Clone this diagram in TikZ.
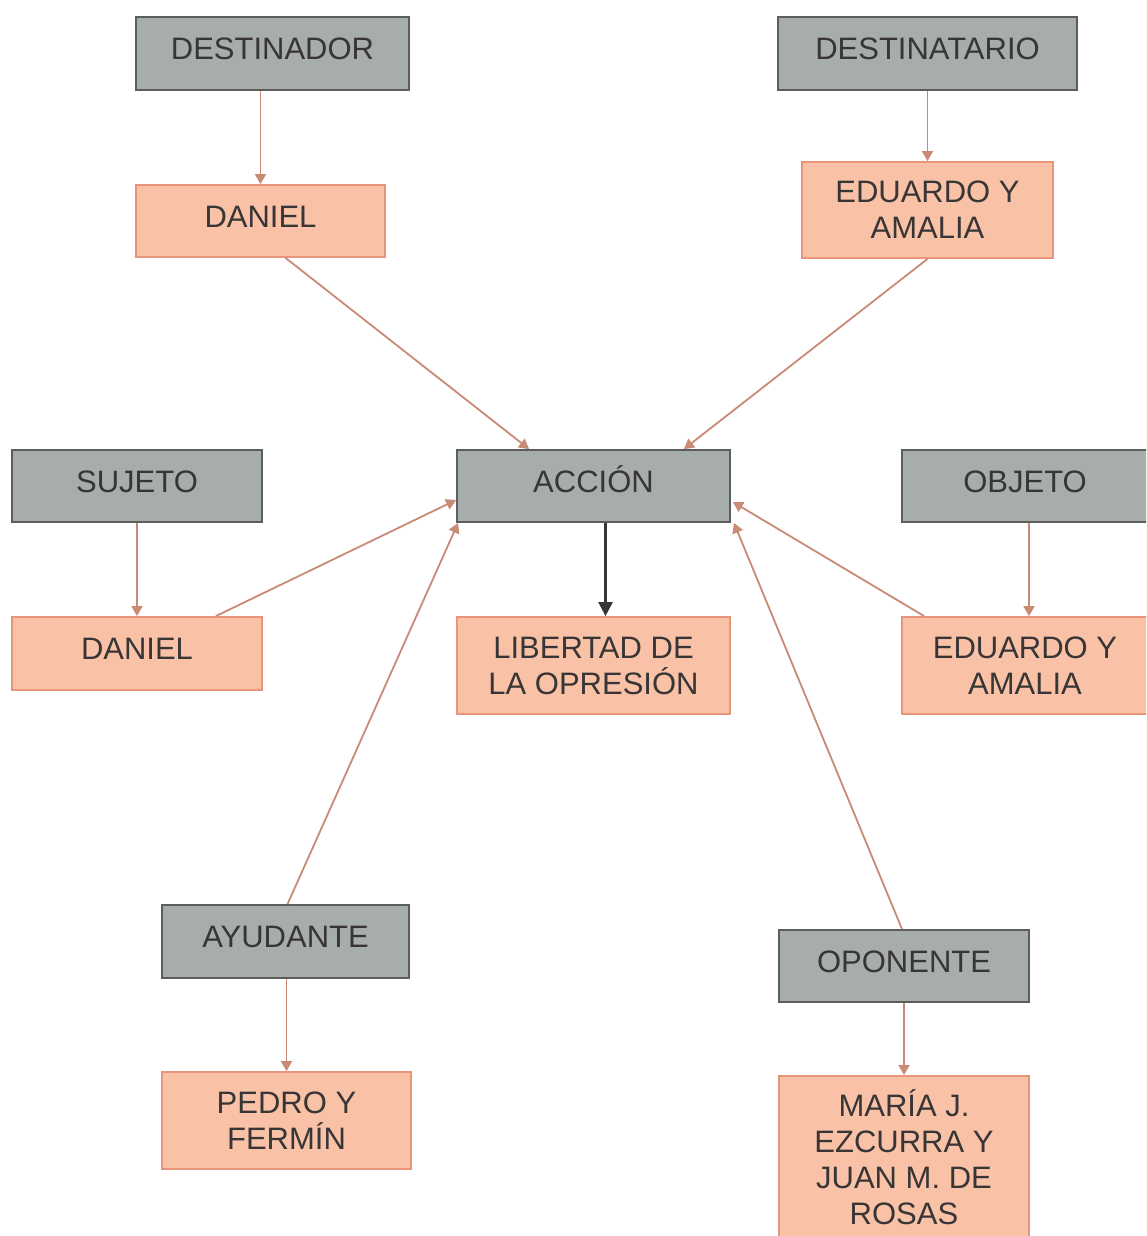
\documentclass[tikz,border=0pt]{standalone}
\usepackage{fontspec}
\setmainfont{Liberation Sans}
\usetikzlibrary{arrows.meta,calc}
\definecolor{grayfill}{HTML}{A7ADAA}
\definecolor{graydraw}{HTML}{5A5F5E}
\definecolor{salfill}{HTML}{F9C2A6}
\definecolor{saldraw}{HTML}{E8957C}
\definecolor{arrowc}{HTML}{C98A76}
\definecolor{txt}{HTML}{383536}
\tikzset{
  box/.style={rectangle, inner sep=0pt, align=center, text=txt,
    font=\fontsize{31}{36}\selectfont, line width=1.8pt},
  oneline/.style={text height=22pt, text depth=10pt},
  graybox/.style={box, fill=grayfill, draw=graydraw},
  salbox/.style={box, fill=salfill, draw=saldraw},
  conn/.style={draw=arrowc, line width=1.8pt,
    -{Triangle[width=11pt,length=10pt]}},
  mainconn/.style={draw=txt, line width=2.6pt,
    -{Triangle[width=14pt,length=14pt]}}
}
\begin{document}
\begin{tikzpicture}[x=1pt,y=-1pt]
\useasboundingbox (0,0) rectangle (1146,1236);
\clip (0,0) rectangle (1146,1236);
\fill[white] (0,0) rectangle (1146,1236);
% top row
\node[graybox, oneline, minimum width=273pt, minimum height=73pt] (dor) at (272.5,53.5) {DESTINADOR};
\node[salbox, oneline, minimum width=249pt, minimum height=72pt] (dan1) at (260.5,221) {DANIEL};
\node[graybox, oneline, minimum width=299pt, minimum height=73pt] (tario) at (927.5,53.5) {DESTINATARIO};
\node[salbox, minimum width=251pt, minimum height=96pt] (edu1) at (927.5,210) {EDUARDO Y\\AMALIA};
% middle row
\node[graybox, oneline, minimum width=250pt, minimum height=72pt] (suj) at (137,486) {SUJETO};
\node[salbox, oneline, minimum width=250pt, minimum height=73pt] (dan2) at (137,653.5) {DANIEL};
\node[graybox, oneline, minimum width=273pt, minimum height=72pt] (acc) at (593.5,486) {ACCIÓN};
\node[salbox, minimum width=273pt, minimum height=97pt] (lib) at (593.5,665.5) {LIBERTAD DE\\LA OPRESIÓN};
\node[graybox, oneline, minimum width=246pt, minimum height=72pt] (obj) at (1025,486) {OBJETO};
\node[salbox, minimum width=246pt, minimum height=97pt] (edu2) at (1025,665.5) {EDUARDO Y\\AMALIA};
% bottom row
\node[graybox, oneline, minimum width=247pt, minimum height=73pt] (ayu) at (285.5,941.5) {AYUDANTE};
\node[salbox, minimum width=249pt, minimum height=97pt] (ped) at (286.5,1120.5) {PEDRO Y\\FERMÍN};
\node[graybox, oneline, minimum width=250pt, minimum height=72pt] (opo) at (904,966) {OPONENTE};
\node[salbox, minimum width=250pt, minimum height=170pt, anchor=north] (mar) at (904,1075) {};
\node[box, anchor=north] (martxt) at (904,1089) {MARÍA J.\\EZCURRA Y\\JUAN M. DE\\ROSAS};
% vertical connectors
\draw[conn] (dor.south -| dan1.north) -- (dan1.north);
\draw[conn] (tario.south) -- (edu1.north);
\draw[conn] (suj.south) -- (dan2.north);
\draw[mainconn] ($(acc.south)+(12,0)$) -- ($(lib.north)+(12,0)$);
\draw[conn] ($(obj.south)+(4,0)$) -- ($(edu2.north)+(4,0)$);
\draw[conn] (ayu.south -| ped.north) -- (ped.north);
\draw[conn] (opo.south) -- (mar.north);
% diagonal connectors
\draw[conn] ($(dan1.south)+(25,0)$) -- ($(acc.north west)+(73,0)$);
\draw[conn] (edu1.south) -- ($(acc.north east)+(-47,0)$);
\draw[conn] ($(dan2.north east)+(-47,0)$) -- ($(acc.west)+(0,14)$);
\draw[conn] ($(ayu.north)+(2,0)$) -- ($(acc.south west)+(2,0)$);
\draw[conn] ($(edu2.north west)+(23,0)$) -- ($(acc.east)+(2,16)$);
\draw[conn] ($(opo.north)+(-2,0)$) -- ($(acc.south east)+(3,0)$);
\end{tikzpicture}
\end{document}
